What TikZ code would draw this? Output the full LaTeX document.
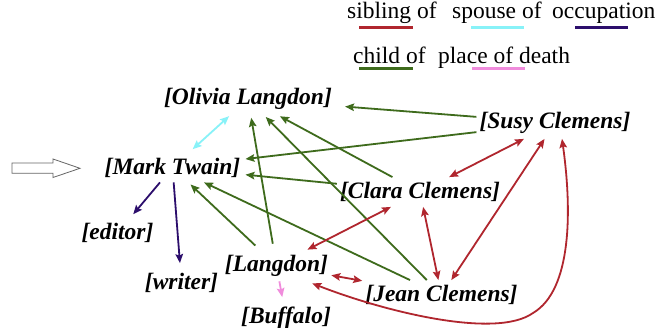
\documentclass[tikz,border=0pt]{standalone}
\usepackage{fontspec}
\setmainfont{Liberation Serif}
\usetikzlibrary{arrows.meta}
\definecolor{sibc}{HTML}{B0262E}
\definecolor{spoc}{HTML}{88F2F8}
\definecolor{occc}{HTML}{2C0E6C}
\definecolor{chic}{HTML}{3E6B1C}
\definecolor{podc}{HTML}{F08CDC}
\tikzset{
  tip/.tip={Stealth[length=9pt,width=7.5pt,inset=1.5pt]},
  ent/.style={inner xsep=3pt,inner ysep=5pt,font=\fontsize{23.5}{26}\selectfont\bfseries\itshape},
  leg/.style={anchor=base west,inner sep=0pt,font=\fontsize{23.5}{26}\selectfont},
  legline/.style={line width=2.2pt},
  rel/.style={line width=1.8pt},
  childof/.style={rel,chic,-tip},
  sibof/.style={rel,sibc,tip-tip},
  spouseof/.style={rel,spoc,tip-tip},
  occof/.style={rel,occc,-tip},
  podof/.style={rel,podc,-tip},
}
\begin{document}
\begin{tikzpicture}[x=1pt,y=-1pt]
\useasboundingbox[fill=white] (0,0) rectangle (672,336);
% legend
\node[leg] (lsib) at (347,18.5) {sibling of};
\node[leg] (lspo) at (452,18.5) {spouse of};
\node[leg] (locc) at (552,18.5) {occupation};
\node[leg] (lchi) at (353,63.5) {child of};
\node[leg] (lpod) at (438,63.5) {place of death};
\draw[legline,sibc] (359,27.5) -- (413,27.5);
\draw[legline,spoc] (471,27.5) -- (524,27.5);
\draw[legline,occc] (575,27.5) -- (628,27.5);
\draw[legline,chic] (359,68.5) -- (413,68.5);
\draw[legline,podc] (472,68.5) -- (525,68.5);
% hollow arrow
\draw[gray!80!black,line width=0.8pt,fill=white] (12,163) -- (53,163) -- (53,159) -- (80,168.3) -- (53,177.5) -- (53,173.3) -- (12,173.3) -- cycle;
% entities
\node[ent] (olivia) at (248,99) {[Olivia Langdon]};
\node[ent] (twain) at (172.5,167.5) {[Mark Twain]};
\node[ent] (susy) at (555,123) {[Susy Clemens]};
\node[ent] (clara) at (420,192) {[Clara Clemens]};
\node[ent] (editor) at (117.5,233) {[editor]};
\node[ent] (writer) at (181.5,283) {[writer]};
\node[ent] (langdon) at (276.5,265.5) {[Langdon]};
\node[ent] (buffalo) at (286,318) {[Buffalo]};
\node[ent] (jean) at (441.5,295) {[Jean Clemens]};
% child of
\draw[childof,shorten >=10pt] (susy) -- (olivia);
\draw[childof,shorten >=2pt] (susy) -- (twain);
\draw[childof,shorten >=2pt] (clara) -- (twain);
\draw[childof,shorten >=3pt] (clara) -- (olivia);
\draw[childof,shorten <=6pt,shorten >=3pt] (langdon) -- (olivia);
\draw[childof,shorten <=6pt,shorten >=3pt] (langdon) -- (twain);
\draw[childof] (jean) -- (twain);
\draw[childof,shorten >=3pt] (jean) -- (olivia);
% sibling of
\draw[sibof] (susy) -- (clara);
\draw[sibof] (susy) -- (jean);
\draw[sibof] (clara) -- (langdon);
\draw[sibof] (clara) -- (jean);
\draw[sibof] (langdon) -- (jean);
\draw[sibof] ([xshift=7pt]susy.south) .. controls (572,210) and (572,290) .. (533,313)
  .. controls (495,340) and (380,310) .. ([xshift=-19pt,yshift=-2pt]langdon.south east);
% spouse of
\draw[spouseof,shorten <=5pt,shorten >=2pt] (twain) -- (olivia);
% occupation
\draw[occof,shorten >=5pt] (twain) -- (editor);
\draw[occof,shorten >=5pt] (twain) -- (writer);
% place of death
\draw[podof,shorten >=5pt] (langdon) -- (buffalo);
\end{tikzpicture}
\end{document}
